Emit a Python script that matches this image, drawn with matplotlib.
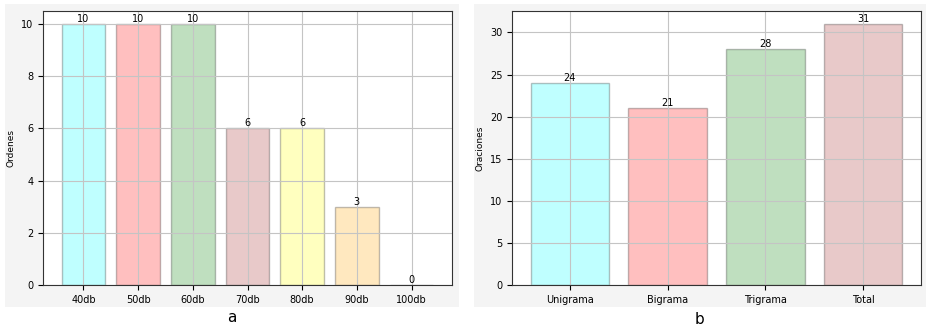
import matplotlib
matplotlib.use("Agg")
import matplotlib.pyplot as plt
from matplotlib.patches import Rectangle

# Data
niveles = ["40db", "50db", "60db", "70db", "80db", "90db", "100db"]
ordenes = [10, 10, 10, 6, 6, 3, 0]
colores_a = ["cyan", "red", "green", "brown", "yellow", "orange", "purple"]

modelos = ["Unigrama", "Bigrama", "Trigrama", "Total"]
oraciones = [24, 21, 28, 31]
colores_b = ["cyan", "red", "green", "brown"]

W, H = 927, 329
fig = plt.figure(figsize=(W / 100, H / 100), dpi=100)

# gray panel backgrounds
fig.add_artist(Rectangle((5 / W, 1 - 307 / H), 454 / W, 303 / H, transform=fig.transFigure,
                         facecolor="#f4f4f4", edgecolor="none", zorder=0))
fig.add_artist(Rectangle((474 / W, 1 - 307 / H), 452 / W, 303 / H, transform=fig.transFigure,
                         facecolor="#f4f4f4", edgecolor="none", zorder=0))


def panel(rect, labels, values, colors, ylabel):
    ax = fig.add_axes(rect)
    bars = ax.bar(labels, values, color=colors, alpha=0.25, edgecolor="black", linewidth=1)
    for b, v in zip(bars, values):
        ax.text(b.get_x() + b.get_width() / 2, v, str(v), ha="center", va="bottom", fontsize=7)
    ax.grid(True, color="#c4c4c4")
    ax.set_ylabel(ylabel, fontsize=6.5)
    ax.tick_params(labelsize=7)
    for s in ax.spines.values():
        s.set_color("#333333")
    return ax


def fr(l, t, r, b):
    return [l / W, 1 - b / H, (r - l) / W, (b - t) / H]


panel(fr(43, 11, 452, 285), niveles, ordenes, colores_a, "Ordenes")
panel(fr(512, 11, 921, 285), modelos, oraciones, colores_b, "Oraciones")

fig.text(232 / W, 1 - 318 / H, "a", ha="center", va="center", fontsize=11)
fig.text(700 / W, 1 - 320 / H, "b", ha="center", va="center", fontsize=11)

fig.savefig("out.png", dpi=100)
